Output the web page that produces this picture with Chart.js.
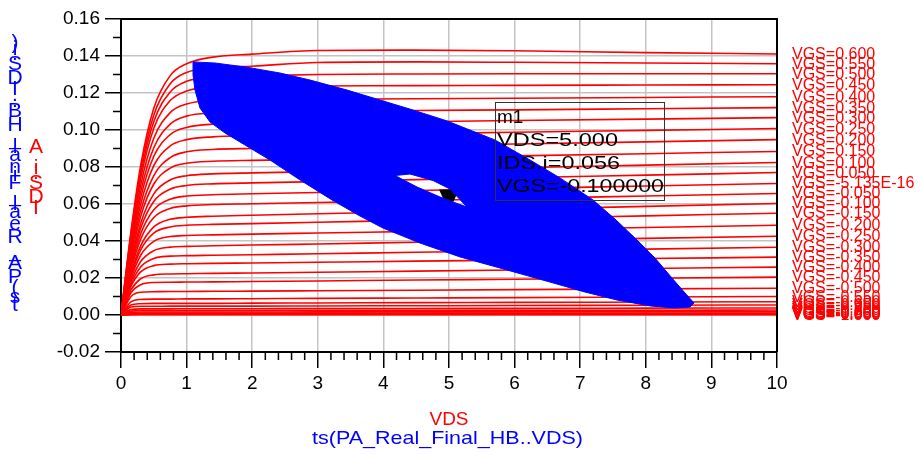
<!DOCTYPE html>
<html>
<head>
<meta charset="utf-8">
<script src="https://cdn.jsdelivr.net/npm/chart.js@4.4.1/dist/chart.umd.min.js"></script>
<style>
  html, body { margin: 0; padding: 0; background: #ffffff; }
  #chart_ivLoadLine { display: block; }
</style>
</head>
<body>
<canvas id="chart_ivLoadLine" width="921" height="455"></canvas>
<script>
// DC sweep: VDS points shared by every VGS curve
var vdsPoints = [0, 0.15, 0.3, 0.5, 0.75, 1, 1.4, 2, 3, 4.5, 6, 8, 10];

var vgsLabels = [
  'VGS=0.600', 'VGS=0.550', 'VGS=0.500', 'VGS=0.450', 'VGS=0.400', 'VGS=0.350',
  'VGS=0.300', 'VGS=0.250', 'VGS=0.200', 'VGS=0.150', 'VGS=0.100', 'VGS=0.050',
  'VGS=-5.135E-16', 'VGS=-0.050', 'VGS=-0.100', 'VGS=-0.150', 'VGS=-0.200', 'VGS=-0.250',
  'VGS=-0.300', 'VGS=-0.350', 'VGS=-0.400', 'VGS=-0.450', 'VGS=-0.500', 'VGS=-0.550',
  'VGS=-0.600', 'VGS=-0.650', 'VGS=-0.700', 'VGS=-0.750', 'VGS=-0.800', 'VGS=-0.850',
  'VGS=-0.900', 'VGS=-0.950', 'VGS=-1.000'
];

// IDS.i (A) per VGS, read at vdsPoints
var idsCurves = [
  [0, 0.0446, 0.0809, 0.1118, 0.1294, 0.1358, 0.1394, 0.1410, 0.1430, 0.1432, 0.1428, 0.1418, 0.1411],
  [0, 0.0434, 0.0785, 0.1081, 0.1250, 0.1311, 0.1335, 0.1345, 0.1365, 0.1368, 0.1366, 0.1362, 0.1358],
  [0, 0.0422, 0.0761, 0.1046, 0.1206, 0.1263, 0.1286, 0.1292, 0.1300, 0.1303, 0.1304, 0.1304, 0.1304],
  [0, 0.0408, 0.0736, 0.1009, 0.1159, 0.1211, 0.1232, 0.1237, 0.1238, 0.1240, 0.1241, 0.1243, 0.1245],
  [0, 0.0390, 0.0701, 0.0955, 0.1094, 0.1140, 0.1160, 0.1164, 0.1166, 0.1169, 0.1172, 0.1176, 0.1180],
  [0, 0.0371, 0.0666, 0.0904, 0.1032, 0.1075, 0.1092, 0.1097, 0.1100, 0.1105, 0.1109, 0.1115, 0.1121],
  [0, 0.0355, 0.0634, 0.0858, 0.0975, 0.1014, 0.1031, 0.1035, 0.1039, 0.1045, 0.1051, 0.1059, 0.1067],
  [0, 0.0336, 0.0599, 0.0807, 0.0914, 0.0948, 0.0963, 0.0968, 0.0973, 0.0980, 0.0988, 0.0998, 0.1008],
  [0, 0.0317, 0.0564, 0.0754, 0.0851, 0.0882, 0.0895, 0.0900, 0.0906, 0.0915, 0.0924, 0.0936, 0.0948],
  [0, 0.0302, 0.0533, 0.0708, 0.0794, 0.0820, 0.0831, 0.0836, 0.0842, 0.0851, 0.0860, 0.0872, 0.0884],
  [0, 0.0282, 0.0496, 0.0655, 0.0730, 0.0753, 0.0763, 0.0768, 0.0775, 0.0786, 0.0796, 0.0810, 0.0824],
  [0, 0.0268, 0.0469, 0.0614, 0.0680, 0.0700, 0.0709, 0.0714, 0.0721, 0.0732, 0.0742, 0.0756, 0.0770],
  [0, 0.0253, 0.0439, 0.0569, 0.0626, 0.0643, 0.0650, 0.0655, 0.0662, 0.0673, 0.0683, 0.0697, 0.0711],
  [0, 0.0238, 0.0410, 0.0527, 0.0576, 0.0590, 0.0597, 0.0601, 0.0608, 0.0619, 0.0629, 0.0643, 0.0657],
  [0, 0.0220, 0.0374, 0.0476, 0.0517, 0.0528, 0.0534, 0.0539, 0.0547, 0.0559, 0.0571, 0.0587, 0.0603],
  [0, 0.0209, 0.0352, 0.0443, 0.0476, 0.0485, 0.0490, 0.0494, 0.0501, 0.0512, 0.0522, 0.0536, 0.0550],
  [0, 0.0195, 0.0323, 0.0398, 0.0424, 0.0430, 0.0433, 0.0437, 0.0443, 0.0452, 0.0461, 0.0473, 0.0485],
  [0, 0.0178, 0.0289, 0.0348, 0.0367, 0.0371, 0.0374, 0.0378, 0.0384, 0.0393, 0.0402, 0.0414, 0.0426],
  [0, 0.0165, 0.0260, 0.0306, 0.0318, 0.0321, 0.0323, 0.0326, 0.0331, 0.0339, 0.0346, 0.0356, 0.0366],
  [0, 0.0153, 0.0233, 0.0267, 0.0275, 0.0277, 0.0279, 0.0281, 0.0285, 0.0291, 0.0297, 0.0305, 0.0313],
  [0, 0.0134, 0.0196, 0.0217, 0.0222, 0.0223, 0.0225, 0.0227, 0.0231, 0.0237, 0.0243, 0.0251, 0.0259],
  [0, 0.0119, 0.0164, 0.0176, 0.0177, 0.0178, 0.0179, 0.0181, 0.0184, 0.0189, 0.0193, 0.0199, 0.0205],
  [0, 0.0099, 0.0123, 0.0126, 0.0127, 0.0127, 0.0128, 0.0129, 0.0131, 0.0134, 0.0137, 0.0141, 0.0145],
  [0, 0.0071, 0.0084, 0.0086, 0.0086, 0.0087, 0.0087, 0.0088, 0.0090, 0.0092, 0.0094, 0.0097, 0.0100],
  [0, 0.0054, 0.0061, 0.0063, 0.0063, 0.0063, 0.0063, 0.0064, 0.0065, 0.0067, 0.0068, 0.0070, 0.0072],
  [0, 0.0043, 0.0047, 0.0047, 0.0048, 0.0048, 0.0048, 0.0048, 0.0049, 0.0050, 0.0051, 0.0053, 0.0054],
  [0, 0.0030, 0.0033, 0.0033, 0.0033, 0.0034, 0.0034, 0.0034, 0.0035, 0.0035, 0.0036, 0.0037, 0.0038],
  [0, 0.0021, 0.0024, 0.0024, 0.0024, 0.0024, 0.0024, 0.0024, 0.0025, 0.0025, 0.0026, 0.0026, 0.0027],
  [0, 0.0014, 0.0016, 0.0016, 0.0016, 0.0016, 0.0016, 0.0016, 0.0017, 0.0017, 0.0017, 0.0018, 0.0018],
  [0, 0.0009, 0.0010, 0.0010, 0.0010, 0.0010, 0.0010, 0.0010, 0.0010, 0.0011, 0.0011, 0.0011, 0.0011],
  [0, 0.0005, 0.0005, 0.0006, 0.0006, 0.0006, 0.0006, 0.0006, 0.0006, 0.0006, 0.0006, 0.0006, 0.0006],
  [0, 0.0002, 0.0003, 0.0003, 0.0003, 0.0003, 0.0003, 0.0003, 0.0003, 0.0003, 0.0003, 0.0003, 0.0003],
  [0, 0.0001, 0.0001, 0.0001, 0.0001, 0.0001, 0.0001, 0.0001, 0.0001, 0.0001, 0.0001, 0.0001, 0.0001]
];

// HB load line: outer edge of the swept loops (upper edge left->right, lower edge back)
var loopOuterVds = [1.098, 1.433, 1.890, 2.424, 2.881, 3.445, 3.948, 4.451, 4.970, 5.396,
  5.701, 6.235, 6.692, 7.195, 7.530, 7.835, 8.140, 8.399, 8.598, 8.735,
  8.674, 8.445, 8.064, 7.561, 7.073, 6.540, 5.777, 5.168, 4.558, 3.994,
  3.643, 3.216, 2.729, 2.271, 1.890, 1.585, 1.357, 1.204, 1.128, 1.098, 1.098];
var loopOuterIds = [0.1368, 0.1362, 0.1341, 0.1308, 0.1270, 0.1216, 0.1162, 0.1108, 0.1049, 0.0989,
  0.0946, 0.0838, 0.0741, 0.0622, 0.0519, 0.0416, 0.0308, 0.0200, 0.0119, 0.0065,
  0.0043, 0.0038, 0.0049, 0.0081, 0.0124, 0.0178, 0.0254, 0.0314, 0.0389, 0.0470,
  0.0535, 0.0622, 0.0730, 0.0838, 0.0919, 0.0984, 0.1043, 0.1119, 0.1216, 0.1297, 0.1368];
// smallest loop (the empty hole in the middle), opposite direction
var loopHoleVds = [4.177, 4.512, 4.863, 5.122, 5.274, 5.015, 4.756, 4.405, 4.177];
var loopHoleIds = [0.0754, 0.0692, 0.0638, 0.0603, 0.0584, 0.0681, 0.0727, 0.0762, 0.0754];

var markerVds = [5.0];
var markerIds = [0.056];
var markerText = ['m1', 'VDS=5.000', 'IDS.i=0.056', 'VGS=-0.100000'];

var xTickLabels = ['0', '1', '2', '3', '4', '5', '6', '7', '8', '9', '10'];
var yTickLabels = ['-0.02', '0.00', '0.02', '0.04', '0.06', '0.08', '0.10', '0.12', '0.14', '0.16'];

Chart.defaults.font.family = 'Liberation Sans';

var loopPoints = [];
for (var i = 0; i < loopOuterVds.length; i++) {
  loopPoints.push({ x: loopOuterVds[i], y: loopOuterIds[i] });
}
for (i = 0; i < loopHoleVds.length; i++) {
  loopPoints.push({ x: loopHoleVds[i], y: loopHoleIds[i] });
}
loopPoints.push({ x: loopOuterVds[0], y: loopOuterIds[0] });

var datasets = [
  {
    label: 'ts(PA_Real_Final_HB..IDS.i)',
    data: loopPoints,
    showLine: true,
    fill: 'shape',
    borderColor: '#0000ff',
    backgroundColor: '#0000ff',
    borderWidth: 1,
    pointRadius: 0,
    order: 0
  },
  {
    label: 'm1',
    data: [{ x: markerVds[0], y: markerIds[0] }],
    pointRadius: 0,
    order: 1
  }
];
idsCurves.forEach(function (ids, k) {
  datasets.push({
    label: vgsLabels[k],
    data: vdsPoints.map(function (v, j) { return { x: v, y: ids[j] }; }),
    showLine: true,
    fill: false,
    borderColor: '#ff0000',
    borderWidth: 1.6,
    pointRadius: 0,
    cubicInterpolationMode: 'monotone',
    order: 2
  });
});

function drawStretched(ctx, text, x, y, size, color, width) {
  ctx.save();
  ctx.font = size + 'px "Liberation Sans"';
  ctx.fillStyle = color;
  ctx.textBaseline = 'alphabetic';
  ctx.textAlign = 'left';
  var w = ctx.measureText(text).width;
  var sx = width ? width / w : 1;
  ctx.translate(x, y);
  ctx.scale(sx, 1);
  ctx.fillText(text, 0, 0);
  ctx.restore();
}

// y label as ADS shows it: rotated text, glyphs left upright
function drawStacked(ctx, text, cx, yStart, size, color) {
  ctx.save();
  ctx.font = size + 'px "Liberation Sans"';
  ctx.fillStyle = color;
  ctx.textAlign = 'center';
  ctx.textBaseline = 'middle';
  var y = yStart;
  for (var i = 0; i < text.length; i++) {
    var w = ctx.measureText(text[i]).width;
    ctx.fillText(text[i], cx, y - w / 2);
    y -= w;
  }
  ctx.restore();
}

var chart_ivLoadLine = new Chart(document.getElementById('chart_ivLoadLine'), {
  type: 'scatter',
  data: { datasets: datasets },
  options: {
    animation: false,
    responsive: false,
    events: [],
    layout: { padding: { left: 0, top: 19, right: 144, bottom: 0 } },
    plugins: {
      legend: { display: false },
      tooltip: { enabled: false }
    },
    scales: {
      x: {
        type: 'linear',
        min: 0,
        max: 10,
        afterFit: function (scale) { scale.height = 103; },
        ticks: {
          stepSize: 1,
          color: '#000000',
          padding: 4,
          maxRotation: 0,
          font: { size: 19 },
          callback: function (value) { return xTickLabels[Math.round(value)]; }
        },
        grid: { color: '#c4c4c4', lineWidth: 1.5, tickLength: 16, tickColor: '#000000', tickWidth: 1.5 },
        border: { color: '#000000', width: 2 }
      },
      y: {
        type: 'linear',
        min: -0.02,
        max: 0.16,
        afterFit: function (scale) { scale.width = 121; },
        ticks: {
          stepSize: 0.02,
          color: '#000000',
          padding: 5,
          font: { size: 19 },
          callback: function (value) { return yTickLabels[Math.round((value + 0.02) / 0.02)]; }
        },
        grid: { color: '#c4c4c4', lineWidth: 1.5, tickLength: 16, tickColor: '#000000', tickWidth: 1.5 },
        border: { color: '#000000', width: 2 }
      }
    }
  },
  plugins: [{
    id: 'adsDecor',
    afterDatasetDraw: function (chart, args) {
      if (args.index !== 1) return;
      // marker symbol sits just above its point
      var pt = args.meta.data[0];
      var ctx = chart.ctx;
      ctx.save();
      ctx.fillStyle = '#000000';
      ctx.beginPath();
      ctx.moveTo(pt.x - 10, pt.y - 22);
      ctx.lineTo(pt.x + 10, pt.y - 22);
      ctx.lineTo(pt.x, pt.y);
      ctx.closePath();
      ctx.fill();
      ctx.restore();
    },
    afterDraw: function (chart) {
      var ctx = chart.ctx;
      var area = chart.chartArea;
      var xs = chart.scales.x;
      var ys = chart.scales.y;
      var k;

      ctx.save();
      ctx.strokeStyle = '#000000';
      ctx.lineWidth = 1.5;
      ctx.beginPath();
      for (k = 1; k < 50; k++) {
        if (k % 5 === 0) continue;
        var px = xs.getPixelForValue(k / 5);
        ctx.moveTo(px, area.bottom);
        ctx.lineTo(px, area.bottom + 8);
      }
      for (k = -1; k < 16; k += 2) {
        var py = ys.getPixelForValue(k / 100);
        ctx.moveTo(area.left - 8, py);
        ctx.lineTo(area.left, py);
      }
      ctx.stroke();
      ctx.lineWidth = 2;
      ctx.beginPath();
      ctx.moveTo(area.left, area.top);
      ctx.lineTo(area.right, area.top);
      ctx.lineTo(area.right, area.bottom);
      ctx.stroke();
      ctx.restore();

      // trace labels at the end of each VGS curve
      for (k = 0; k < idsCurves.length; k++) {
        var meta = chart.getDatasetMeta(k + 2);
        var last = meta.data[meta.data.length - 1];
        drawStretched(ctx, vgsLabels[k], area.right + 15, last.y + 5, 16, '#ff0000');
      }

      // marker readout
      ctx.save();
      ctx.strokeStyle = '#333333';
      ctx.lineWidth = 1;
      ctx.strokeRect(495.5, 102.5, 169, 98);
      ctx.restore();
      var lineY = [122.5, 145.5, 169, 192];
      var lineW = [null, 121, 123, 167];
      for (k = 0; k < markerText.length; k++) {
        drawStretched(ctx, markerText[k], 497, lineY[k], 19, '#000000', lineW[k]);
      }

      // axis titles
      var cx = (area.left + area.right) / 2;
      drawStretched(ctx, 'VDS', cx - 19.5, 424.5, 19, '#ff0000', 39);
      drawStretched(ctx, 'ts(PA_Real_Final_HB..VDS)', cx - 137, 444, 19, '#0000ff', 271);
      drawStacked(ctx, 'ts(PA_Real_Final_HB..IDS.i)', 15, 308, 21, '#0000ff');
      drawStacked(ctx, 'IDS.i, A', 36, 211, 21, '#ff0000');
    }
  }]
});
</script>
</body>
</html>
